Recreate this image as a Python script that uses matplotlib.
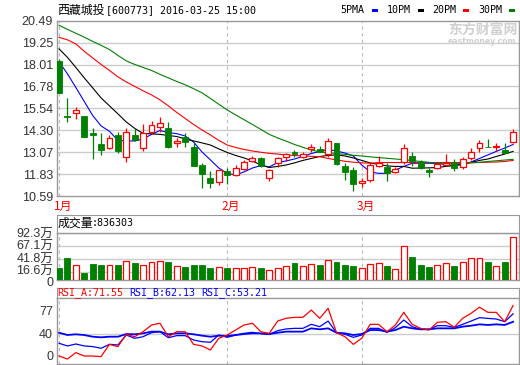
import matplotlib
matplotlib.use('Agg')
import matplotlib.pyplot as plt
from matplotlib.patches import Rectangle
from matplotlib.transforms import blended_transform_factory, ScaledTranslation

# daily candles, 2016-01-04 .. 2016-03-25
opens = [18.22, 15.09, 15.27, 15.11, 14.15, 13.53, 13.32, 14.04, 12.78, 14.04,
         13.28, 14.22, 14.51, 14.45, 13.57, 13.91, 13.38, 12.34, 11.62, 11.36,
         12.02, 11.78, 12.12, 12.57, 12.75, 11.59, 12.44, 12.81, 13.06, 12.79,
         13.25, 13.25, 12.95, 13.57, 12.29, 12.06, 11.31, 11.49, 12.30, 12.25,
         11.96, 12.53, 12.85, 12.53, 12.08, 12.19, 12.34, 12.44, 12.21, 12.75,
         13.28, 13.38, 13.36, 13.19, 13.66]
highs = [18.33, 16.15, 15.64, 15.11, 14.45, 14.17, 14.04, 14.22, 14.41, 14.41,
         14.64, 14.83, 15.06, 14.79, 13.89, 14.13, 13.59, 12.47, 12.00, 12.08,
         12.15, 12.34, 12.62, 12.85, 12.81, 12.12, 12.81, 13.03, 13.19, 13.06,
         13.51, 13.43, 13.85, 13.60, 12.44, 12.25, 11.59, 12.44, 12.85, 12.44,
         12.20, 13.50, 13.06, 12.62, 12.19, 12.53, 12.95, 12.68, 12.81, 13.29,
         13.75, 13.81, 13.57, 13.57, 14.36]
lows = [16.43, 14.79, 14.94, 13.94, 12.68, 12.91, 13.25, 13.04, 12.53, 13.70,
        13.15, 14.09, 14.22, 13.32, 13.36, 13.38, 12.30, 11.06, 11.06, 11.21,
        11.25, 11.72, 12.06, 12.49, 12.23, 11.44, 12.25, 12.59, 12.81, 12.72,
        13.06, 13.06, 12.81, 12.35, 11.49, 10.87, 11.12, 11.36, 12.25, 11.44,
        11.87, 12.40, 12.30, 12.12, 11.68, 12.12, 12.30, 11.99, 12.14, 12.62,
        13.09, 13.35, 13.13, 13.04, 13.57]
closes = [16.43, 15.05, 15.45, 13.94, 14.02, 13.19, 13.85, 13.15, 14.22, 13.75,
          14.13, 14.60, 14.73, 13.38, 13.72, 13.66, 12.30, 11.83, 11.34, 12.06,
          11.78, 12.19, 12.53, 12.75, 12.30, 12.06, 12.72, 12.95, 12.98, 12.96,
          13.38, 13.10, 13.70, 12.38, 11.96, 11.25, 11.45, 12.34, 12.47, 11.87,
          12.12, 13.32, 12.57, 12.16, 11.93, 12.40, 12.47, 12.19, 12.66, 13.06,
          13.57, 13.35, 13.42, 13.04, 14.19]

# volume in 万
volumes = [24.2, 43.8, 29.4, 14.4, 31.4, 29.4, 29.4, 29.4, 37.3, 33.3,
           29.4, 35.3, 37.3, 35.3, 27.5, 25.5, 29.4, 29.4, 23.5, 25.5,
           23.5, 23.5, 23.5, 25.5, 24.2, 19.6, 22.9, 27.5, 34.0, 27.5,
           31.4, 29.4, 39.2, 35.3, 29.4, 27.5, 23.5, 31.4, 33.3, 27.5,
           21.6, 66.7, 45.1, 29.4, 25.5, 29.4, 33.3, 27.5, 35.3, 43.1,
           43.1, 35.3, 27.5, 35.3, 83.6303]

ma5 = [18.17, 17.49, 16.72, 15.93, 15.14, 14.55, 14.24, 13.73, 13.70, 13.70,
       13.81, 14.07, 14.29, 14.17, 14.11, 13.98, 13.64, 13.08, 12.63, 12.17,
       11.86, 11.78, 11.95, 12.17, 12.31, 12.23, 12.48, 12.57, 12.68, 12.82,
       12.99, 13.11, 13.22, 13.13, 13.02, 12.85, 12.34, 11.95, 11.87, 11.87,
       12.06, 12.26, 12.44, 12.44, 12.44, 12.43, 12.37, 12.31, 12.37, 12.51,
       12.71, 12.91, 13.11, 13.30, 13.50]
ma10 = [18.90, 18.42, 17.85, 17.26, 16.70, 16.13, 15.68, 15.23, 14.77, 14.41,
        14.12, 14.10, 14.07, 14.01, 13.95, 13.81, 13.70, 13.59, 13.47, 13.25,
        13.05, 12.88, 12.74, 12.57, 12.34, 12.20, 12.26, 12.34, 12.46, 12.60,
        12.71, 12.82, 12.88, 12.91, 12.85, 12.74, 12.60, 12.46, 12.37, 12.29,
        12.26, 12.26, 12.16, 12.17, 12.18, 12.20, 12.26, 12.31, 12.40, 12.48,
        12.60, 12.68, 12.82, 12.96, 13.11]
ma20 = [19.55, 19.41, 19.18, 18.76, 18.39, 18.02, 17.68, 17.32, 17.03, 16.78,
        16.53, 16.30, 16.02, 15.68, 15.31, 14.97, 14.63, 14.32, 14.04, 13.73,
        13.47, 13.33, 13.22, 13.13, 13.06, 13.00, 12.96, 12.91, 12.88, 12.85,
        12.83, 12.81, 12.71, 12.63, 12.55, 12.50, 12.46, 12.44, 12.48, 12.48,
        12.48, 12.48, 12.48, 12.48, 12.48, 12.48, 12.48, 12.48, 12.48, 12.48,
        12.48, 12.50, 12.51, 12.54, 12.60]
ma30 = [20.23, 20.00, 19.78, 19.56, 19.32, 19.10, 18.86, 18.53, 18.22, 18.02,
        17.85, 17.68, 17.46, 17.26, 17.06, 16.87, 16.65, 16.42, 16.10, 15.77,
        15.45, 15.17, 14.90, 14.63, 14.35, 14.07, 13.87, 13.69, 13.50, 13.34,
        13.19, 13.08, 13.03, 12.99, 12.94, 12.89, 12.85, 12.80, 12.76, 12.72,
        12.68, 12.64, 12.59, 12.54, 12.49, 12.44, 12.44, 12.44, 12.44, 12.46,
        12.49, 12.54, 12.58, 12.62, 12.66]

rsi_a = [14.7, 11.3, 18.5, 14.7, 14.7, 14.0, 27.8, 25.2, 39.1, 36.4,
         42.0, 49.6, 51.5, 36.4, 42.0, 42.0, 27.8, 26.0, 21.5, 34.6,
         38.3, 43.9, 49.6, 51.5, 42.0, 40.2, 54.0, 57.1, 58.2, 58.2,
         66.4, 57.1, 68.3, 40.9, 36.4, 27.8, 34.6, 50.3, 50.3, 42.0,
         49.6, 63.8, 50.3, 45.8, 43.9, 52.6, 53.3, 47.0, 57.1, 62.7,
         69.6, 63.8, 63.8, 53.3, 71.55]
rsi_b = [29.0, 26.0, 28.2, 26.0, 25.3, 23.4, 27.8, 27.1, 38.3, 34.6,
         36.4, 40.9, 42.1, 35.3, 37.6, 37.6, 32.7, 30.8, 30.1, 38.3,
         35.7, 38.3, 40.2, 41.3, 39.8, 39.1, 43.2, 45.1, 45.8, 45.8,
         50.3, 47.7, 54.0, 40.9, 39.1, 35.7, 38.3, 45.8, 45.8, 41.3,
         46.6, 55.2, 47.7, 44.7, 44.7, 48.8, 48.8, 46.9, 50.3, 54.0,
         57.8, 57.0, 56.3, 53.3, 62.13]
rsi_c = [40.9, 38.3, 39.1, 38.3, 36.4, 35.7, 36.4, 36.4, 39.4, 39.1,
         40.2, 42.1, 42.1, 39.1, 40.2, 40.2, 39.1, 37.6, 36.4, 37.6,
         37.2, 38.3, 39.4, 40.2, 40.2, 39.4, 40.9, 42.1, 42.1, 42.1,
         45.8, 44.7, 45.8, 40.9, 40.2, 38.3, 39.4, 43.9, 43.9, 42.1,
         43.9, 47.7, 45.8, 44.7, 44.7, 45.8, 45.8, 45.8, 47.7, 48.8,
         50.3, 49.6, 50.3, 49.6, 53.21]

month_idx = [0, 20, 36]
month_labels = ['1月', '2月', '3月']
price_ticks = [10.59, 11.83, 13.07, 14.30, 15.54, 16.78, 18.01, 19.25, 20.49]
vol_ticks = [0, 16.6, 41.8, 67.1, 92.3]
vol_tick_labels = ['0', '16.6万', '41.8万', '67.1万', '92.3万']
ma_names = ['5PMA', '10PM', '20PM', '30PM']

RED = '#ff0000'
GREEN = '#008000'
BLUE = '#0000ff'
BLACK = '#000000'
ma_colors = [BLUE, BLACK, RED, GREEN]
BORDER = '#999999'
GRID = '#cccccc'

CJK = ['Noto Sans CJK SC', 'DejaVu Sans']
MONO = ['DejaVu Sans Mono', 'Noto Sans CJK SC']
LAB = ['Liberation Sans', 'Noto Sans CJK SC']

W, H = 520, 365
fig = plt.figure(figsize=(W / 100, H / 100), dpi=100)
fig.patch.set_facecolor('white')


def box(l, t, r, b):
    return [l / W, 1 - b / H, (r - l) / W, (b - t) / H]


def fx(x):
    return x / W


def fy(y):
    return 1 - y / H


def style(ax):
    for s in ax.spines.values():
        s.set_color(BORDER)
        s.set_linewidth(1)
    ax.tick_params(length=0, labelsize=9, colors='#333333', pad=2.5)
    ax.set_xticks([])
    for lab in ax.get_yticklabels():
        lab.set_family(LAB)


def nudge(label, dy_px):
    label.set_transform(label.get_transform() +
                        ScaledTranslation(0, dy_px / 100, fig.dpi_scale_trans))


n = len(closes)
xs = list(range(n))
XL = (-0.3, n - 0.3)
bw = 0.7

# ---- price panel
ax = fig.add_axes(box(56.5, 20.7, 519, 196))
ax.set_xlim(*XL)
ax.set_ylim(price_ticks[0], price_ticks[-1])
ax.set_yticks(price_ticks)
ax.set_yticklabels([f'{t:.2f}' for t in price_ticks])
style(ax)
for t in price_ticks[1:-1]:
    ax.axhline(t, color=GRID, lw=1, zorder=0)
for m in month_idx:
    ax.axvline(m, color='#bbbbbb', lw=0.8, ls=(0, (3, 3)), zorder=0)

for vals, c in zip([ma5, ma10, ma20, ma30], ma_colors):
    ax.plot(xs, vals, color=c, lw=0.8, zorder=2)

for i in xs:
    o, h, l, c = opens[i], highs[i], lows[i], closes[i]
    lo_b, hi_b = min(o, c), max(o, c)
    if c >= o:
        ax.vlines(i, hi_b, h, color=RED, lw=0.9, zorder=3)
        ax.vlines(i, l, lo_b, color=RED, lw=0.9, zorder=3)
        ax.add_patch(Rectangle((i - bw / 2, lo_b), bw, max(hi_b - lo_b, 0.01),
                               facecolor='white', edgecolor=RED, lw=0.9, zorder=3))
    else:
        ax.vlines(i, l, h, color=GREEN, lw=0.9, zorder=3)
        ax.add_patch(Rectangle((i - bw / 2, lo_b), bw, max(hi_b - lo_b, 0.01),
                               facecolor=GREEN, edgecolor=GREEN, lw=0.6, zorder=3))

tr = blended_transform_factory(ax.transData, fig.transFigure)
for m, lab in zip(month_idx, month_labels):
    ax.text(m - 0.65, fy(206), lab, transform=tr, color=RED, fontsize=8.5,
            family=CJK, ha='left', va='center')

# watermark
fig.text(fx(448), fy(30), '东方财富网', color='#d0d0d0', fontsize=10,
         fontweight='bold', family=CJK, ha='left', va='center')
fig.text(fx(448), fy(41.5), 'eastmoney.com', color='#d0d0d0', fontsize=5.6,
         fontweight='bold', family='DejaVu Sans', ha='left', va='center')

# title and legend
fig.text(fx(57), fy(10), '西藏城投', fontsize=8.6, family=CJK, ha='left', va='center')
fig.text(fx(105.5), fy(10), '[600773] 2016-03-25 15:00', fontsize=7.2, family=MONO,
         ha='left', va='center')
for k, (name, c) in enumerate(zip(ma_names, ma_colors)):
    x0 = 340.7 + k * 45.8
    fig.text(fx(x0), fy(10), name, fontsize=7.2, family=MONO, ha='left', va='center')
    fig.patches.append(Rectangle((fx(x0 + 31), fy(11.5)), 6 / W, 3 / H,
                                 transform=fig.transFigure, facecolor=c,
                                 edgecolor='none', figure=fig))

# ---- volume panel
vh = fig.add_axes(box(56.5, 215, 519, 232.7))
vh.set_xticks([])
vh.set_yticks([])
for s in vh.spines.values():
    s.set_color(BORDER)
fig.text(fx(57.5), fy(223), '成交量', fontsize=8.6, family=CJK, ha='left', va='center')
fig.text(fx(91.5), fy(223), f':{volumes[-1] * 10000:.0f}', fontsize=7.2, family=MONO,
         ha='left', va='center')

va = fig.add_axes(box(56.5, 232.7, 519, 280))
va.set_xlim(*XL)
va.set_ylim(0, 92.7)
va.set_yticks(vol_ticks)
va.set_yticklabels(vol_tick_labels)
style(va)
vlabs = va.get_yticklabels()
nudge(vlabs[0], -1.5)
nudge(vlabs[1], 1.5)
for t in vol_ticks[1:]:
    va.axhline(t, color=GRID, lw=1, zorder=0)
for m in month_idx:
    va.axvline(m, color='#bbbbbb', lw=0.8, ls=(0, (3, 3)), zorder=0)
up = [closes[i] >= opens[i] for i in xs]
va.bar([i for i in xs if up[i]], [volumes[i] for i in xs if up[i]], width=bw,
       facecolor='white', edgecolor=RED, lw=0.9, zorder=3)
va.bar([i for i in xs if not up[i]], [volumes[i] for i in xs if not up[i]], width=bw,
       facecolor=GREEN, edgecolor=GREEN, lw=0.6, zorder=3)

# ---- RSI panel
rh = fig.add_axes(box(56.5, 287.7, 519, 298.3))
rh.set_xticks([])
rh.set_yticks([])
for s in rh.spines.values():
    s.set_color(BORDER)
rsi_names = ['RSI_A', 'RSI_B', 'RSI_C']
rsi_colors = [RED, BLUE, BLUE]
for k, (nm, vals, c) in enumerate(zip(rsi_names, [rsi_a, rsi_b, rsi_c], rsi_colors)):
    fig.text(fx(57.5 + k * 72), fy(293), f'{nm}:{vals[-1]:.2f}', fontsize=7.2,
             family=MONO, color=c, ha='left', va='center')

ra = fig.add_axes(box(56.5, 298.3, 519, 364))
ra.set_xlim(*XL)
ra.set_ylim(5.7, 79.6)
ra.set_yticks([15.1, 40, 65.6])
ra.set_yticklabels(['0', '40', '77'])
style(ra)
ra.axhline(40, color=GRID, lw=1, zorder=0)
for m in month_idx:
    ra.axvline(m, color='#bbbbbb', lw=0.8, ls=(0, (3, 3)), zorder=0)
ra.plot(xs, rsi_c, color=BLUE, lw=1.3, zorder=2)
ra.plot(xs, rsi_b, color=BLUE, lw=0.9, zorder=2)
ra.plot(xs, rsi_a, color=RED, lw=0.9, zorder=3)

fig.savefig('out.png', dpi=100)
